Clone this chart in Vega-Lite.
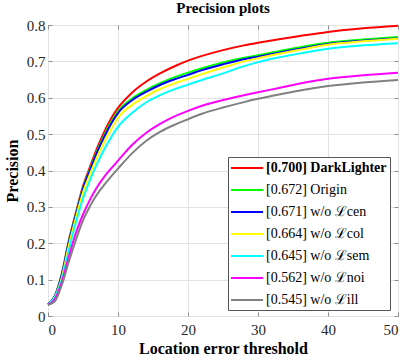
{
  "$schema": "https://vega.github.io/schema/vega-lite/v6.json",
  "autosize": {"type": "none"},
  "width": 350,
  "height": 291,
  "padding": {"left": 48, "top": 25, "right": 9, "bottom": 44},
  "background": "white",
  "title": {"text": "Precision plots", "font": "Liberation Serif", "fontSize": 15, "fontWeight": "bold", "color": "black", "offset": 2, "anchor": "middle"},
  "config": {
    "view": {"stroke": "#8c8c8c", "strokeWidth": 1},
    "axis": {"labelFont": "Liberation Serif", "labelFontSize": 15, "labelColor": "#262626", "titleFont": "Liberation Serif", "titleFontSize": 16, "titleFontWeight": "bold", "titleColor": "black", "gridColor": "#e3e3e3", "gridWidth": 1, "domainColor": "#8c8c8c", "tickColor": "#8c8c8c", "tickSize": -4}
  },
  "datasets": {
    "curves": [
      {"s": "[0.700] DarkLighter", "x": 0, "y": 0.032}, {"s": "[0.700] DarkLighter", "x": 1, "y": 0.056}, {"s": "[0.700] DarkLighter", "x": 2, "y": 0.118}, {"s": "[0.700] DarkLighter", "x": 3, "y": 0.21}, {"s": "[0.700] DarkLighter", "x": 4, "y": 0.285}, {"s": "[0.700] DarkLighter", "x": 5, "y": 0.357}, {"s": "[0.700] DarkLighter", "x": 6, "y": 0.41}, {"s": "[0.700] DarkLighter", "x": 7, "y": 0.461}, {"s": "[0.700] DarkLighter", "x": 8, "y": 0.505}, {"s": "[0.700] DarkLighter", "x": 9, "y": 0.542}, {"s": "[0.700] DarkLighter", "x": 10, "y": 0.572}, {"s": "[0.700] DarkLighter", "x": 12, "y": 0.614}, {"s": "[0.700] DarkLighter", "x": 14, "y": 0.644}, {"s": "[0.700] DarkLighter", "x": 16, "y": 0.667}, {"s": "[0.700] DarkLighter", "x": 18, "y": 0.686}, {"s": "[0.700] DarkLighter", "x": 20, "y": 0.702}, {"s": "[0.700] DarkLighter", "x": 22, "y": 0.715}, {"s": "[0.700] DarkLighter", "x": 25, "y": 0.731}, {"s": "[0.700] DarkLighter", "x": 28, "y": 0.744}, {"s": "[0.700] DarkLighter", "x": 30, "y": 0.751}, {"s": "[0.700] DarkLighter", "x": 33, "y": 0.761}, {"s": "[0.700] DarkLighter", "x": 36, "y": 0.77}, {"s": "[0.700] DarkLighter", "x": 40, "y": 0.781}, {"s": "[0.700] DarkLighter", "x": 45, "y": 0.791}, {"s": "[0.700] DarkLighter", "x": 50, "y": 0.798},
      {"s": "[0.672] Origin", "x": 0, "y": 0.032}, {"s": "[0.672] Origin", "x": 1, "y": 0.056}, {"s": "[0.672] Origin", "x": 2, "y": 0.117}, {"s": "[0.672] Origin", "x": 3, "y": 0.207}, {"s": "[0.672] Origin", "x": 4, "y": 0.281}, {"s": "[0.672] Origin", "x": 5, "y": 0.352}, {"s": "[0.672] Origin", "x": 6, "y": 0.403}, {"s": "[0.672] Origin", "x": 7, "y": 0.453}, {"s": "[0.672] Origin", "x": 8, "y": 0.496}, {"s": "[0.672] Origin", "x": 9, "y": 0.533}, {"s": "[0.672] Origin", "x": 10, "y": 0.563}, {"s": "[0.672] Origin", "x": 12, "y": 0.598}, {"s": "[0.672] Origin", "x": 14, "y": 0.621}, {"s": "[0.672] Origin", "x": 16, "y": 0.64}, {"s": "[0.672] Origin", "x": 18, "y": 0.656}, {"s": "[0.672] Origin", "x": 20, "y": 0.669}, {"s": "[0.672] Origin", "x": 22, "y": 0.681}, {"s": "[0.672] Origin", "x": 25, "y": 0.697}, {"s": "[0.672] Origin", "x": 28, "y": 0.71}, {"s": "[0.672] Origin", "x": 30, "y": 0.717}, {"s": "[0.672] Origin", "x": 33, "y": 0.728}, {"s": "[0.672] Origin", "x": 36, "y": 0.739}, {"s": "[0.672] Origin", "x": 40, "y": 0.751}, {"s": "[0.672] Origin", "x": 45, "y": 0.76}, {"s": "[0.672] Origin", "x": 50, "y": 0.767},
      {"s": "[0.671] w/o ℒcen", "x": 0, "y": 0.032}, {"s": "[0.671] w/o ℒcen", "x": 1, "y": 0.055}, {"s": "[0.671] w/o ℒcen", "x": 2, "y": 0.115}, {"s": "[0.671] w/o ℒcen", "x": 3, "y": 0.204}, {"s": "[0.671] w/o ℒcen", "x": 4, "y": 0.278}, {"s": "[0.671] w/o ℒcen", "x": 5, "y": 0.349}, {"s": "[0.671] w/o ℒcen", "x": 6, "y": 0.4}, {"s": "[0.671] w/o ℒcen", "x": 7, "y": 0.449}, {"s": "[0.671] w/o ℒcen", "x": 8, "y": 0.491}, {"s": "[0.671] w/o ℒcen", "x": 9, "y": 0.528}, {"s": "[0.671] w/o ℒcen", "x": 10, "y": 0.558}, {"s": "[0.671] w/o ℒcen", "x": 12, "y": 0.593}, {"s": "[0.671] w/o ℒcen", "x": 14, "y": 0.616}, {"s": "[0.671] w/o ℒcen", "x": 16, "y": 0.635}, {"s": "[0.671] w/o ℒcen", "x": 18, "y": 0.65}, {"s": "[0.671] w/o ℒcen", "x": 20, "y": 0.663}, {"s": "[0.671] w/o ℒcen", "x": 22, "y": 0.676}, {"s": "[0.671] w/o ℒcen", "x": 25, "y": 0.692}, {"s": "[0.671] w/o ℒcen", "x": 28, "y": 0.706}, {"s": "[0.671] w/o ℒcen", "x": 30, "y": 0.713}, {"s": "[0.671] w/o ℒcen", "x": 33, "y": 0.724}, {"s": "[0.671] w/o ℒcen", "x": 36, "y": 0.735}, {"s": "[0.671] w/o ℒcen", "x": 40, "y": 0.748}, {"s": "[0.671] w/o ℒcen", "x": 45, "y": 0.757}, {"s": "[0.671] w/o ℒcen", "x": 50, "y": 0.763},
      {"s": "[0.664] w/o ℒcol", "x": 0, "y": 0.031}, {"s": "[0.664] w/o ℒcol", "x": 1, "y": 0.053}, {"s": "[0.664] w/o ℒcol", "x": 2, "y": 0.108}, {"s": "[0.664] w/o ℒcol", "x": 3, "y": 0.196}, {"s": "[0.664] w/o ℒcol", "x": 4, "y": 0.271}, {"s": "[0.664] w/o ℒcol", "x": 5, "y": 0.34}, {"s": "[0.664] w/o ℒcol", "x": 6, "y": 0.39}, {"s": "[0.664] w/o ℒcol", "x": 7, "y": 0.437}, {"s": "[0.664] w/o ℒcol", "x": 8, "y": 0.477}, {"s": "[0.664] w/o ℒcol", "x": 9, "y": 0.513}, {"s": "[0.664] w/o ℒcol", "x": 10, "y": 0.545}, {"s": "[0.664] w/o ℒcol", "x": 12, "y": 0.58}, {"s": "[0.664] w/o ℒcol", "x": 14, "y": 0.604}, {"s": "[0.664] w/o ℒcol", "x": 16, "y": 0.624}, {"s": "[0.664] w/o ℒcol", "x": 18, "y": 0.639}, {"s": "[0.664] w/o ℒcol", "x": 20, "y": 0.652}, {"s": "[0.664] w/o ℒcol", "x": 22, "y": 0.665}, {"s": "[0.664] w/o ℒcol", "x": 25, "y": 0.683}, {"s": "[0.664] w/o ℒcol", "x": 28, "y": 0.7}, {"s": "[0.664] w/o ℒcol", "x": 30, "y": 0.709}, {"s": "[0.664] w/o ℒcol", "x": 33, "y": 0.721}, {"s": "[0.664] w/o ℒcol", "x": 36, "y": 0.732}, {"s": "[0.664] w/o ℒcol", "x": 40, "y": 0.746}, {"s": "[0.664] w/o ℒcol", "x": 45, "y": 0.755}, {"s": "[0.664] w/o ℒcol", "x": 50, "y": 0.762},
      {"s": "[0.645] w/o ℒsem", "x": 0, "y": 0.031}, {"s": "[0.645] w/o ℒsem", "x": 1, "y": 0.052}, {"s": "[0.645] w/o ℒsem", "x": 2, "y": 0.102}, {"s": "[0.645] w/o ℒsem", "x": 3, "y": 0.183}, {"s": "[0.645] w/o ℒsem", "x": 4, "y": 0.258}, {"s": "[0.645] w/o ℒsem", "x": 5, "y": 0.323}, {"s": "[0.645] w/o ℒsem", "x": 6, "y": 0.374}, {"s": "[0.645] w/o ℒsem", "x": 7, "y": 0.418}, {"s": "[0.645] w/o ℒsem", "x": 8, "y": 0.457}, {"s": "[0.645] w/o ℒsem", "x": 9, "y": 0.491}, {"s": "[0.645] w/o ℒsem", "x": 10, "y": 0.52}, {"s": "[0.645] w/o ℒsem", "x": 12, "y": 0.558}, {"s": "[0.645] w/o ℒsem", "x": 14, "y": 0.587}, {"s": "[0.645] w/o ℒsem", "x": 16, "y": 0.607}, {"s": "[0.645] w/o ℒsem", "x": 18, "y": 0.623}, {"s": "[0.645] w/o ℒsem", "x": 20, "y": 0.636}, {"s": "[0.645] w/o ℒsem", "x": 22, "y": 0.649}, {"s": "[0.645] w/o ℒsem", "x": 25, "y": 0.667}, {"s": "[0.645] w/o ℒsem", "x": 28, "y": 0.687}, {"s": "[0.645] w/o ℒsem", "x": 30, "y": 0.698}, {"s": "[0.645] w/o ℒsem", "x": 33, "y": 0.711}, {"s": "[0.645] w/o ℒsem", "x": 36, "y": 0.722}, {"s": "[0.645] w/o ℒsem", "x": 40, "y": 0.735}, {"s": "[0.645] w/o ℒsem", "x": 45, "y": 0.744}, {"s": "[0.645] w/o ℒsem", "x": 50, "y": 0.75},
      {"s": "[0.562] w/o ℒnoi", "x": 0, "y": 0.031}, {"s": "[0.562] w/o ℒnoi", "x": 1, "y": 0.047}, {"s": "[0.562] w/o ℒnoi", "x": 2, "y": 0.095}, {"s": "[0.562] w/o ℒnoi", "x": 3, "y": 0.165}, {"s": "[0.562] w/o ℒnoi", "x": 4, "y": 0.229}, {"s": "[0.562] w/o ℒnoi", "x": 5, "y": 0.279}, {"s": "[0.562] w/o ℒnoi", "x": 6, "y": 0.32}, {"s": "[0.562] w/o ℒnoi", "x": 7, "y": 0.354}, {"s": "[0.562] w/o ℒnoi", "x": 8, "y": 0.382}, {"s": "[0.562] w/o ℒnoi", "x": 9, "y": 0.405}, {"s": "[0.562] w/o ℒnoi", "x": 10, "y": 0.427}, {"s": "[0.562] w/o ℒnoi", "x": 12, "y": 0.47}, {"s": "[0.562] w/o ℒnoi", "x": 14, "y": 0.503}, {"s": "[0.562] w/o ℒnoi", "x": 16, "y": 0.528}, {"s": "[0.562] w/o ℒnoi", "x": 18, "y": 0.548}, {"s": "[0.562] w/o ℒnoi", "x": 20, "y": 0.564}, {"s": "[0.562] w/o ℒnoi", "x": 22, "y": 0.578}, {"s": "[0.562] w/o ℒnoi", "x": 25, "y": 0.594}, {"s": "[0.562] w/o ℒnoi", "x": 28, "y": 0.607}, {"s": "[0.562] w/o ℒnoi", "x": 30, "y": 0.615}, {"s": "[0.562] w/o ℒnoi", "x": 33, "y": 0.627}, {"s": "[0.562] w/o ℒnoi", "x": 36, "y": 0.639}, {"s": "[0.562] w/o ℒnoi", "x": 40, "y": 0.652}, {"s": "[0.562] w/o ℒnoi", "x": 45, "y": 0.662}, {"s": "[0.562] w/o ℒnoi", "x": 50, "y": 0.669},
      {"s": "[0.545] w/o ℒill", "x": 0, "y": 0.03}, {"s": "[0.545] w/o ℒill", "x": 1, "y": 0.041}, {"s": "[0.545] w/o ℒill", "x": 2, "y": 0.087}, {"s": "[0.545] w/o ℒill", "x": 3, "y": 0.151}, {"s": "[0.545] w/o ℒill", "x": 4, "y": 0.21}, {"s": "[0.545] w/o ℒill", "x": 5, "y": 0.263}, {"s": "[0.545] w/o ℒill", "x": 6, "y": 0.302}, {"s": "[0.545] w/o ℒill", "x": 7, "y": 0.334}, {"s": "[0.545] w/o ℒill", "x": 8, "y": 0.36}, {"s": "[0.545] w/o ℒill", "x": 9, "y": 0.383}, {"s": "[0.545] w/o ℒill", "x": 10, "y": 0.405}, {"s": "[0.545] w/o ℒill", "x": 12, "y": 0.447}, {"s": "[0.545] w/o ℒill", "x": 14, "y": 0.481}, {"s": "[0.545] w/o ℒill", "x": 16, "y": 0.506}, {"s": "[0.545] w/o ℒill", "x": 18, "y": 0.525}, {"s": "[0.545] w/o ℒill", "x": 20, "y": 0.541}, {"s": "[0.545] w/o ℒill", "x": 22, "y": 0.556}, {"s": "[0.545] w/o ℒill", "x": 25, "y": 0.573}, {"s": "[0.545] w/o ℒill", "x": 28, "y": 0.588}, {"s": "[0.545] w/o ℒill", "x": 30, "y": 0.597}, {"s": "[0.545] w/o ℒill", "x": 33, "y": 0.609}, {"s": "[0.545] w/o ℒill", "x": 36, "y": 0.62}, {"s": "[0.545] w/o ℒill", "x": 40, "y": 0.632}, {"s": "[0.545] w/o ℒill", "x": 45, "y": 0.642}, {"s": "[0.545] w/o ℒill", "x": 50, "y": 0.649}
    ]
  },
  "data": {"name": "curves"},
  "layer": [
    {
      "mark": {"type": "line", "strokeWidth": 2, "interpolate": "monotone"},
      "encoding": {
        "x": {"field": "x", "type": "quantitative", "scale": {"domain": [0, 50], "nice": false}, "axis": {"title": "Location error threshold", "values": [0, 10, 20, 30, 40, 50], "labelPadding": 10, "titlePadding": 3, "domain": false}},
        "y": {"field": "y", "type": "quantitative", "scale": {"domain": [0, 0.8], "nice": false}, "axis": {"title": "Precision", "values": [0, 0.1, 0.2, 0.3, 0.4, 0.5, 0.6, 0.7, 0.8], "labelExpr": "datum.value == 0 ? '0' : format(datum.value, '.1f')", "labelPadding": 7, "titlePadding": 6, "domain": false}},
        "color": {
          "field": "s", "type": "nominal",
          "scale": {
            "domain": ["[0.700] DarkLighter", "[0.672] Origin", "[0.671] w/o ℒcen", "[0.664] w/o ℒcol", "[0.645] w/o ℒsem", "[0.562] w/o ℒnoi", "[0.545] w/o ℒill"],
            "range": ["#ff0000", "#00ff00", "#0000ff", "#ffff00", "#00ffff", "#ff00ff", "#808080"]
          },
          "legend": {"orient": "none", "legendX": 180, "legendY": 132, "title": null, "symbolType": "M-1.14,0H3.43", "symbolSize": 196, "symbolStrokeWidth": 2, "labelFont": "Liberation Serif", "labelFontSize": 14, "labelColor": "black", "labelFontWeight": {"expr": "datum.value == '[0.700] DarkLighter' ? 'bold' : 'normal'"}, "labelOffset": 19, "padding": 3, "rowPadding": 7, "strokeColor": "#555555", "fillColor": "white", "labelLimit": 0}
        }
      }
    },
    {
      "mark": {"type": "line", "opacity": 0},
      "encoding": {
        "x": {"field": "x", "type": "quantitative", "axis": {"orient": "top", "title": null, "labels": false, "grid": false, "domain": false, "values": [0, 10, 20, 30, 40, 50]}},
        "y": {"field": "y", "type": "quantitative", "axis": {"orient": "right", "title": null, "labels": false, "grid": false, "domain": false, "values": [0, 0.1, 0.2, 0.3, 0.4, 0.5, 0.6, 0.7, 0.8]}},
        "detail": {"field": "s"}
      }
    }
  ],
  "resolve": {"axis": {"x": "independent", "y": "independent"}}
}
